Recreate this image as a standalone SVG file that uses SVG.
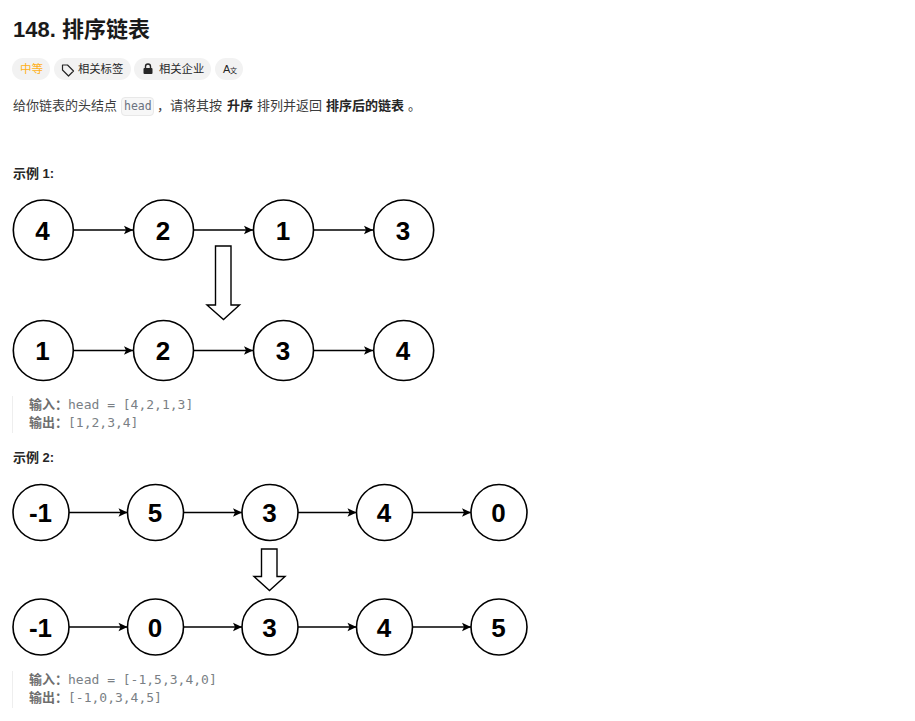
<svg xmlns="http://www.w3.org/2000/svg" width="915" height="721" viewBox="0 0 915 721">
<defs>
<marker id="a" markerUnits="userSpaceOnUse" markerWidth="11" markerHeight="10" refX="10" refY="5" orient="auto"><path d="M1 .8L10 5L1 9.2L3 5Z" fill="#000"/></marker>
</defs>
<style>
text{font-family:"Liberation Sans","Noto Sans CJK SC",sans-serif}
.n circle{fill:#fff;stroke:#000;stroke-width:1.6}
.n text{font-size:26px;font-weight:700;text-anchor:middle;fill:#000}
.c line{stroke:#000;stroke-width:1.6;marker-end:url(#a)}
.pill{fill:#f2f2f2}
.tag{font-size:11.300px;fill:#262626}
.t{font-size:13px;fill:#3c3c3c}
.b{font-size:13px;font-weight:700;fill:#262626}
.m{font-family:"DejaVu Sans Mono","Liberation Mono",monospace;font-size:13px;fill:#7a7f85}
.l{font-size:13px;font-weight:700;fill:#6e6e6e}
.q{fill:#eee}
.big{fill:#fff;stroke:#000;stroke-width:1.4}
</style>
<rect width="915" height="721" fill="#fff"/>
<text x="13" y="37" font-size="22" font-weight="700" fill="#1a1a1a">148. 排序链表</text>
<g id="tags">
<rect class="pill" x="12" y="58" width="38" height="22" rx="11"/>
<text x="20" y="73" font-size="11.500" fill="#ffb020">中等</text>
<rect class="pill" x="54" y="58" width="77" height="22" rx="11"/>
<path d="M62.500 65v5l6 6 5-5-6-6z" fill="none" stroke="#262626" stroke-width="1.200" stroke-linejoin="round"/>
<text x="78" y="73" class="tag">相关标签</text>
<rect class="pill" x="134" y="58" width="77" height="22" rx="11"/>
<path d="M145.500 69v-2.500a2.500 2.500 0 0 1 5 0V69" fill="none" stroke="#262626" stroke-width="1.400"/>
<rect x="143.500" y="68" width="9" height="6" rx="1" fill="#262626"/>
<text x="159" y="73" class="tag">相关企业</text>
<rect class="pill" x="215" y="58" width="28" height="22" rx="11"/>
<text x="223" y="73" font-size="11" fill="#262626">A</text><text x="230" y="73" font-size="7" fill="#262626">文</text>
</g>
<text x="13" y="110" class="t">给你链表的头结点</text>
<rect x="121.500" y="97.500" width="32" height="18" rx="3.500" fill="#f7f7f7" stroke="#e8e8e8"/>
<text x="124" y="110" style="font-family:'DejaVu Sans Mono',monospace;font-size:11.500px;fill:#6b7280">head</text>
<text x="157" y="110" class="t">，请将其按</text>
<text x="227" y="110" class="b">升序</text>
<text x="257" y="110" class="t">排列并返回</text>
<text x="326" y="110" class="b">排序后的链表</text>
<text x="408" y="110" class="t">。</text>
<text x="13" y="178" class="b">示例 1:</text>
<g class="c" id="connectors">
<line x1="73.500" y1="230" x2="133" y2="230"/><line x1="193.500" y1="230" x2="253" y2="230"/><line x1="313.500" y1="230" x2="373" y2="230"/>
<line x1="73.500" y1="350.500" x2="133" y2="350.500"/><line x1="193.500" y1="350.500" x2="253" y2="350.500"/><line x1="313.500" y1="350.500" x2="373" y2="350.500"/>
<line x1="69" y1="512.500" x2="127.500" y2="512.500"/><line x1="183.500" y1="512.500" x2="242" y2="512.500"/><line x1="298" y1="512.500" x2="356.500" y2="512.500"/><line x1="412.500" y1="512.500" x2="471" y2="512.500"/>
<line x1="69" y1="627" x2="127.500" y2="627"/><line x1="183.500" y1="627" x2="242" y2="627"/><line x1="298" y1="627" x2="356.500" y2="627"/><line x1="412.500" y1="627" x2="471" y2="627"/>
</g>
<g class="n" id="n1"><circle cx="43.300" cy="230" r="30"/><text x="42.500" y="239.500">4</text></g>
<g class="n" id="n2"><circle cx="163.500" cy="230" r="30"/><text x="163" y="239.500">2</text></g>
<g class="n" id="n3"><circle cx="283.500" cy="230" r="30"/><text x="283" y="239.500">1</text></g>
<g class="n" id="n4"><circle cx="403.700" cy="230" r="30"/><text x="403" y="239.500">3</text></g>
<g class="n" id="n5"><circle cx="43.300" cy="350.500" r="30"/><text x="42.500" y="360">1</text></g>
<g class="n" id="n6"><circle cx="163.500" cy="350.500" r="30"/><text x="163" y="360">2</text></g>
<g class="n" id="n7"><circle cx="283.500" cy="350.500" r="30"/><text x="283" y="360">3</text></g>
<g class="n" id="n8"><circle cx="403.700" cy="350.500" r="30"/><text x="403" y="360">4</text></g>
<path id="arrow1" class="big" d="M215.500 246H231V305H239.500L223.500 319.500L207 305H215.500Z"/>
<rect class="q" x="12" y="396" width="1" height="37"/>
<text x="29" y="408.500" class="l">输入：</text><text x="68" y="408.500" class="m">head = [4,2,1,3]</text>
<text x="29" y="427" class="l">输出：</text><text x="68" y="427" class="m">[1,2,3,4]</text>
<text x="13" y="462" class="b">示例 2:</text>
<g class="n" id="n9"><circle cx="41" cy="512.500" r="28"/><text x="40.500" y="522">-1</text></g>
<g class="n" id="n10"><circle cx="155.500" cy="512.500" r="28"/><text x="155" y="522">5</text></g>
<g class="n" id="n11"><circle cx="270" cy="512.500" r="28"/><text x="269.500" y="522">3</text></g>
<g class="n" id="n12"><circle cx="384.500" cy="512.500" r="28"/><text x="384" y="522">4</text></g>
<g class="n" id="n13"><circle cx="499" cy="512.500" r="28"/><text x="498.500" y="522">0</text></g>
<g class="n" id="n14"><circle cx="41" cy="627" r="28"/><text x="40.500" y="636.500">-1</text></g>
<g class="n" id="n15"><circle cx="155.500" cy="627" r="28"/><text x="155" y="636.500">0</text></g>
<g class="n" id="n16"><circle cx="270" cy="627" r="28"/><text x="269.500" y="636.500">3</text></g>
<g class="n" id="n17"><circle cx="384.500" cy="627" r="28"/><text x="384" y="636.500">4</text></g>
<g class="n" id="n18"><circle cx="499" cy="627" r="28"/><text x="498.500" y="636.500">5</text></g>
<path id="arrow2" class="big" d="M261.500 549H277V576.500H285L269.500 590.500L254 576.500H261.500Z"/>
<rect class="q" x="12" y="671" width="1" height="37"/>
<text x="29" y="683.500" class="l">输入：</text><text x="68" y="683.500" class="m">head = [-1,5,3,4,0]</text>
<text x="29" y="702" class="l">输出：</text><text x="68" y="702" class="m">[-1,0,3,4,5]</text>
</svg>
